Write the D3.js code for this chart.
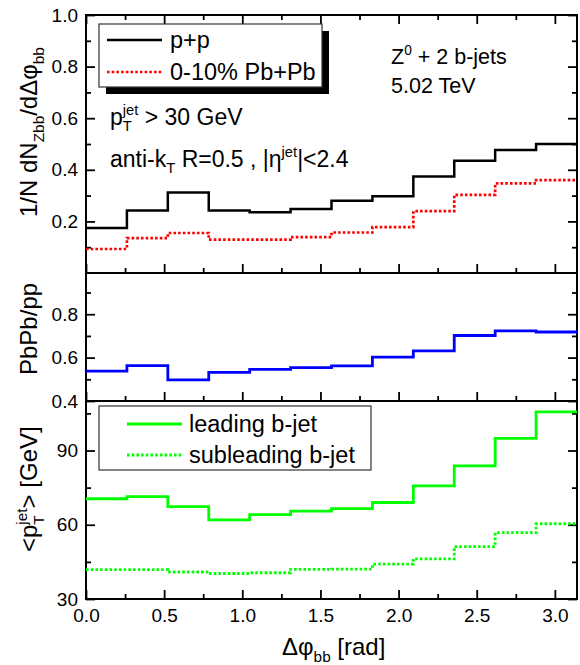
<!DOCTYPE html>
<html>
<head>
<meta charset="utf-8">
<script src="https://cdn.jsdelivr.net/npm/d3@7"></script>
<style>
  body { margin: 0; background: #fff; }
  svg { display: block; }
  text { font-family: "Liberation Sans", Arial, sans-serif; fill: #000; }
</style>
</head>
<body>
<div id="chart"></div>
<script>
// bin edges in dphi (12 bins of pi/12)
const binEdges = [0, 0.2618, 0.5236, 0.7854, 1.0472, 1.3090, 1.5708, 1.8326, 2.0944, 2.3562, 2.6180, 2.8798, 3.1416];

// top panel: normalized distribution
const ppDist   = [0.174, 0.242, 0.312, 0.242, 0.235, 0.248, 0.280, 0.297, 0.374, 0.435, 0.477, 0.500];
const pbpbDist = [0.093, 0.135, 0.155, 0.129, 0.129, 0.139, 0.157, 0.178, 0.240, 0.303, 0.347, 0.360];

// middle panel: ratio
const ratio = [0.538, 0.563, 0.497, 0.532, 0.546, 0.554, 0.562, 0.602, 0.631, 0.702, 0.723, 0.718];

// bottom panel: mean pT
const leadPt = [70.5, 71.4, 67.3, 62.0, 64.1, 65.5, 66.5, 69.0, 75.7, 83.8, 94.9, 105.6];
const subPt  = [41.9, 41.9, 40.9, 40.3, 40.6, 42.0, 42.1, 44.1, 46.2, 51.2, 56.8, 60.4];

// ticks
const xMajor = [0, 0.5, 1.0, 1.5, 2.0, 2.5, 3.0];
const xMinor = [0.25, 0.75, 1.25, 1.75, 2.25, 2.75];
const topMajor = [0.2, 0.4, 0.6, 0.8, 1.0];
const topMinor = [0.1, 0.3, 0.5, 0.7, 0.9];
const midMajor = [0.4, 0.6, 0.8];
const midMinor = [0.5, 0.7, 0.9];
const botMajor = [30, 60, 90];
const botMinor = [45, 75, 105];

const width = 580;
const height = 665;
const left = 86;
const right = 577;

const svg = d3.select("#chart").append("svg")
  .attr("width", width)
  .attr("height", height);

const x = d3.scaleLinear().domain([0, Math.PI]).range([left, right]);
const yTop = d3.scaleLinear().domain([0, 1.0]).range([273, 15]);
const yMid = d3.scaleLinear().domain([0.4, 0.99]).range([401, 273]);
const yBot = d3.scaleLinear().domain([30, 110]).range([599, 401]);

// text with sub / superscripts; k: n | sub | sup | stack (sup + sub under it)
function rich(t, parts, size) {
  const small = size * 0.64;
  let shift = 0;
  let extra = 0;
  parts.forEach(function(p) {
    if (p.k === "stack") {
      const up = t.append("tspan").text(p.sup).attr("font-size", small)
        .attr("dy", -size * 0.42 - shift);
      const w = up.node().getComputedTextLength();
      const down = t.append("tspan").text(p.sub).attr("font-size", small)
        .attr("dx", -w).attr("dy", size * 0.42 + size * 0.28);
      const w2 = down.node().getComputedTextLength();
      shift = size * 0.28;
      extra = Math.max(0, w - w2);
      return;
    }
    const target = p.k === "sub" ? size * 0.28 : p.k === "sup" ? -size * 0.42 : 0;
    const sp = t.append("tspan").text(p.s).attr("dy", target - shift);
    if (extra) sp.attr("dx", extra);
    extra = 0;
    if (p.k !== "n") sp.attr("font-size", small);
    shift = target;
  });
}

function panel(y, major, minor, showLabels, fmt) {
  const g = svg.append("g");

  g.append("g").attr("transform", `translate(${left},0)`)
    .call(d3.axisLeft(y).tickValues(major).tickSize(-9).tickPadding(8).tickFormat(fmt))
    .call(a => a.selectAll("text").attr("font-size", 19).attr("font-family", null));
  g.append("g").attr("transform", `translate(${left},0)`)
    .call(d3.axisLeft(y).tickValues(minor).tickSize(-5).tickFormat(""));
  g.append("g").attr("transform", `translate(${right},0)`)
    .call(d3.axisRight(y).tickValues(major).tickSize(-9).tickFormat(""));
  g.append("g").attr("transform", `translate(${right},0)`)
    .call(d3.axisRight(y).tickValues(minor).tickSize(-5).tickFormat(""));

  const y0 = y.range()[0];
  g.append("g").attr("transform", `translate(0,${y0})`)
    .call(d3.axisBottom(x).tickValues(xMajor).tickSize(-9).tickPadding(10)
      .tickFormat(showLabels ? d3.format(".1f") : ""))
    .call(a => a.selectAll("text").attr("font-size", 19).attr("font-family", null));
  g.append("g").attr("transform", `translate(0,${y0})`)
    .call(d3.axisBottom(x).tickValues(xMinor).tickSize(-5).tickFormat(""));

  g.selectAll(".domain").remove();
  g.selectAll(".tick line").attr("stroke", "#000").attr("stroke-width", 1.8);

  g.append("rect")
    .attr("x", left).attr("y", y.range()[1])
    .attr("width", right - left).attr("height", y.range()[0] - y.range()[1])
    .attr("fill", "none").attr("stroke", "#000").attr("stroke-width", 2);
  return g;
}

const gTop = panel(yTop, topMajor, topMinor, false, d3.format(".1f"));
gTop.append("g").attr("transform", `translate(0,15)`)
  .call(d3.axisTop(x).tickValues(xMajor).tickSize(-9).tickFormat(""))
  .call(a => a.select(".domain").remove());
gTop.append("g").attr("transform", `translate(0,15)`)
  .call(d3.axisTop(x).tickValues(xMinor).tickSize(-5).tickFormat(""))
  .call(a => a.select(".domain").remove());
gTop.selectAll(".tick line").attr("stroke", "#000").attr("stroke-width", 1.8);

panel(yMid, midMajor, midMinor, false, d3.format(".1f"));
panel(yBot, botMajor, botMinor, true, d3.format("d"));

function steps(values, y, color, width, dash) {
  const pts = binEdges.map((e, i) => [e, values[Math.min(i, values.length - 1)]]);
  svg.append("path")
    .attr("d", d3.line().x(d => x(d[0])).y(d => y(d[1])).curve(d3.curveStepAfter)(pts))
    .attr("fill", "none")
    .attr("stroke", color)
    .attr("stroke-width", width)
    .attr("stroke-dasharray", dash || null);
}

steps(pbpbDist, yTop, "#ff0000", 2.7, "2.6,2.1");
steps(ppDist, yTop, "#000", 2.5);
steps(ratio, yMid, "#0000ff", 2.8);
steps(subPt, yBot, "#00ff00", 2.8, "2.6,2.1");
steps(leadPt, yBot, "#00ff00", 2.8);

// top legend with shadow
svg.append("rect").attr("x", 106).attr("y", 31).attr("width", 223).attr("height", 63).attr("fill", "#000");
svg.append("rect").attr("x", 99).attr("y", 24).attr("width", 223).attr("height", 63)
  .attr("fill", "#fff").attr("stroke", "#333").attr("stroke-width", 1.2);
svg.append("line").attr("x1", 107).attr("x2", 162).attr("y1", 40).attr("y2", 40)
  .attr("stroke", "#000").attr("stroke-width", 2.5);
svg.append("line").attr("x1", 107).attr("x2", 162).attr("y1", 72).attr("y2", 72)
  .attr("stroke", "#ff0000").attr("stroke-width", 2.7).attr("stroke-dasharray", "2.6,2.1");
svg.append("text").attr("x", 170).attr("y", 48).attr("font-size", 23.5).text("p+p");
svg.append("text").attr("x", 170).attr("y", 80).attr("font-size", 23.5).text("0-10% Pb+Pb");

// bottom legend
svg.append("rect").attr("x", 99).attr("y", 406).attr("width", 272).attr("height", 64)
  .attr("fill", "#fff").attr("stroke", "#333").attr("stroke-width", 1.2);
svg.append("line").attr("x1", 127).attr("x2", 182).attr("y1", 424).attr("y2", 424)
  .attr("stroke", "#00ff00").attr("stroke-width", 2.8);
svg.append("line").attr("x1", 127).attr("x2", 182).attr("y1", 455).attr("y2", 455)
  .attr("stroke", "#00ff00").attr("stroke-width", 2.8).attr("stroke-dasharray", "2.6,2.1");
svg.append("text").attr("x", 189).attr("y", 432).attr("font-size", 23.5).text("leading b-jet");
svg.append("text").attr("x", 189).attr("y", 463).attr("font-size", 23.5).text("subleading b-jet");

// annotations
rich(svg.append("text").attr("x", 391).attr("y", 64).attr("font-size", 21.5),
  [{ s: "Z", k: "n" }, { s: "0", k: "sup" }, { s: " + 2 b-jets", k: "n" }], 21.5);
svg.append("text").attr("x", 391).attr("y", 93).attr("font-size", 21.5).text("5.02 TeV");
rich(svg.append("text").attr("x", 110).attr("y", 125).attr("font-size", 23),
  [{ s: "p", k: "n" }, { k: "stack", sup: "jet", sub: "T" }, { s: " > 30 GeV", k: "n" }], 23);
rich(svg.append("text").attr("x", 110).attr("y", 167).attr("font-size", 23),
  [{ s: "anti-k", k: "n" }, { s: "T", k: "sub" }, { s: " R=0.5 , |η", k: "n" },
   { s: "jet", k: "sup" }, { s: "|<2.4", k: "n" }], 23);

// axis titles
rich(svg.append("text").attr("transform", "translate(37,217) rotate(-90)").attr("font-size", 24),
  [{ s: "1/N dN", k: "n" }, { s: "Zbb", k: "sub" }, { s: "/dΔφ", k: "n" }, { s: "bb", k: "sub" }], 24);
svg.append("text").attr("transform", "translate(37,375) rotate(-90)").attr("font-size", 24).text("PbPb/pp");
rich(svg.append("text").attr("transform", "translate(37,552) rotate(-90)").attr("font-size", 24),
  [{ s: "<p", k: "n" }, { k: "stack", sup: "jet", sub: "T" }, { s: "> [GeV]", k: "n" }], 24);
rich(svg.append("text").attr("x", 282).attr("y", 655).attr("font-size", 24),
  [{ s: "Δφ", k: "n" }, { s: "bb", k: "sub" }, { s: " [rad]", k: "n" }], 24);
</script>
</body>
</html>
